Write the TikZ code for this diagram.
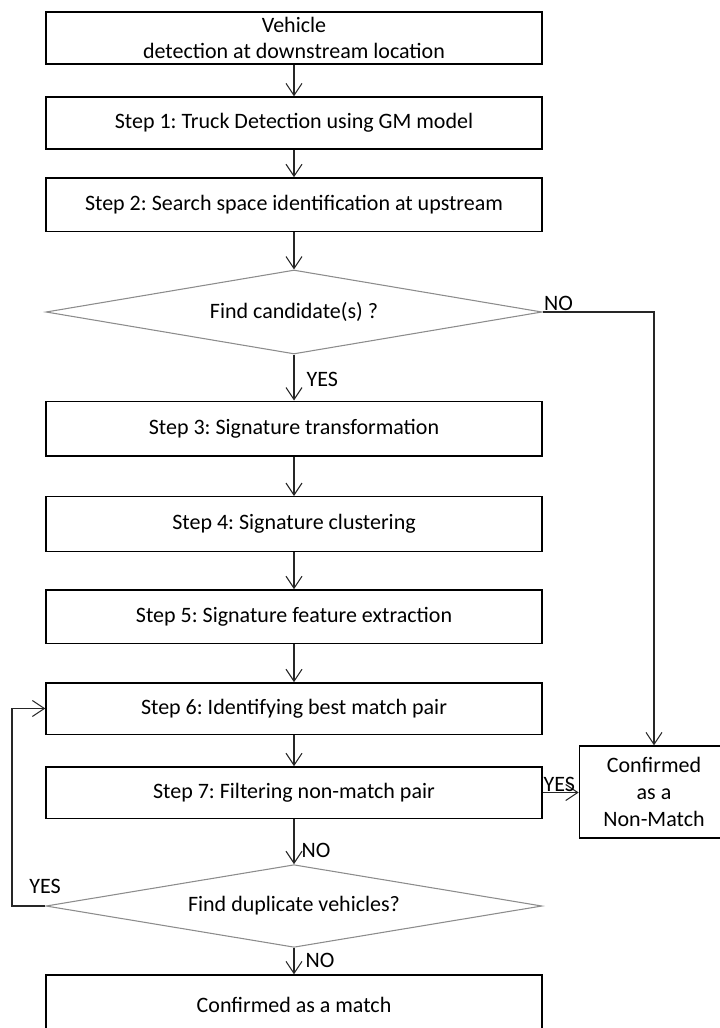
\documentclass[tikz,border=0pt]{standalone}
\usepackage{fontspec}
\setmainfont{Carlito}
\usetikzlibrary{shapes.geometric,arrows.meta}
\frenchspacing
\begin{document}
\begin{tikzpicture}[x=0.75pt,y=-0.75pt,
  txt/.style={font=\fontsize{16.5}{20}\selectfont},
  box/.style={txt, draw=black, line width=1pt, minimum width=372pt, inner sep=0pt, align=center},
  dec/.style={txt, draw=black!45, line width=0.8pt, diamond, aspect=5.9, minimum width=372pt, minimum height=63pt, inner sep=0pt},
  arr/.style={draw=black!85, line width=0.8pt, -{Straight Barb[length=9pt,width=12pt]}},
  lbl/.style={txt, inner sep=1pt}]
\useasboundingbox (0,0) rectangle (720,1028);
\clip (0,0) rectangle (720,1028);
\node[box, minimum height=39pt] (b0) at (294,38) {Vehicle\\detection at downstream location};
\node[box, minimum height=39pt] (b1) at (294,123) {Step 1: Truck Detection using GM model};
\node[box, minimum height=40pt] (b2) at (294,204.5) {Step 2: Search space identification at upstream};
\node[dec] (d1) at (294,312) {Find candidate(s) ?};
\node[box, minimum height=41pt] (b3) at (294,428.5) {Step 3: Signature transformation};
\node[box, minimum height=41pt] (b4) at (294,524) {Step 4: Signature clustering};
\node[box, minimum height=40pt] (b5) at (294,616.5) {Step 5: Signature feature extraction};
\node[box, minimum height=38.5pt] (b6) at (294,708.5) {Step 6: Identifying best match pair};
\node[box, minimum height=38.5pt] (b7) at (294,792.5) {Step 7: Filtering non-match pair};
\node[dec, minimum height=62pt] (d2) at (294,906) {Find duplicate vehicles?};
\node[box, minimum height=45pt] (fin) at (294,1005) {Confirmed as a match};
\node[box, minimum width=112pt, minimum height=69pt] (nm) at (654,792) {Confirmed\\as a\\Non-Match};
\coordinate (lp) at (12,906);
\draw[arr] (b0) -- (b1);
\draw[arr] (b1) -- (b2);
\draw[arr] (b2) -- (d1);
\draw[arr] (d1) -- (b3);
\draw[arr] (b3) -- (b4);
\draw[arr] (b4) -- (b5);
\draw[arr] (b5) -- (b6);
\draw[arr] (b6) -- (b7);
\draw[arr] (b7) -- (d2);
\draw[arr] (d2) -- (fin);
\draw[arr] (d1.east) -| (nm.north);
\draw[arr] (b7.east) -- (b7.east -| nm.west);
\draw[arr] (d2.west) -- (lp) |- (b6.west);
\node[lbl, anchor=south west] (lno1) at (d1.east) {NO};
\node[lbl, anchor=west] (lyes1) at (305,379) {YES};
\node[lbl, anchor=south west, inner sep=0.5pt] (lyes2) at (b7.east) {YES};
\node[lbl, anchor=west] (lno2) at (300,850) {NO};
\node[lbl] (lyes3) at (45,886) {YES};
\node[lbl, anchor=west] (lno3) at (304,960) {NO};
\end{tikzpicture}
\end{document}
